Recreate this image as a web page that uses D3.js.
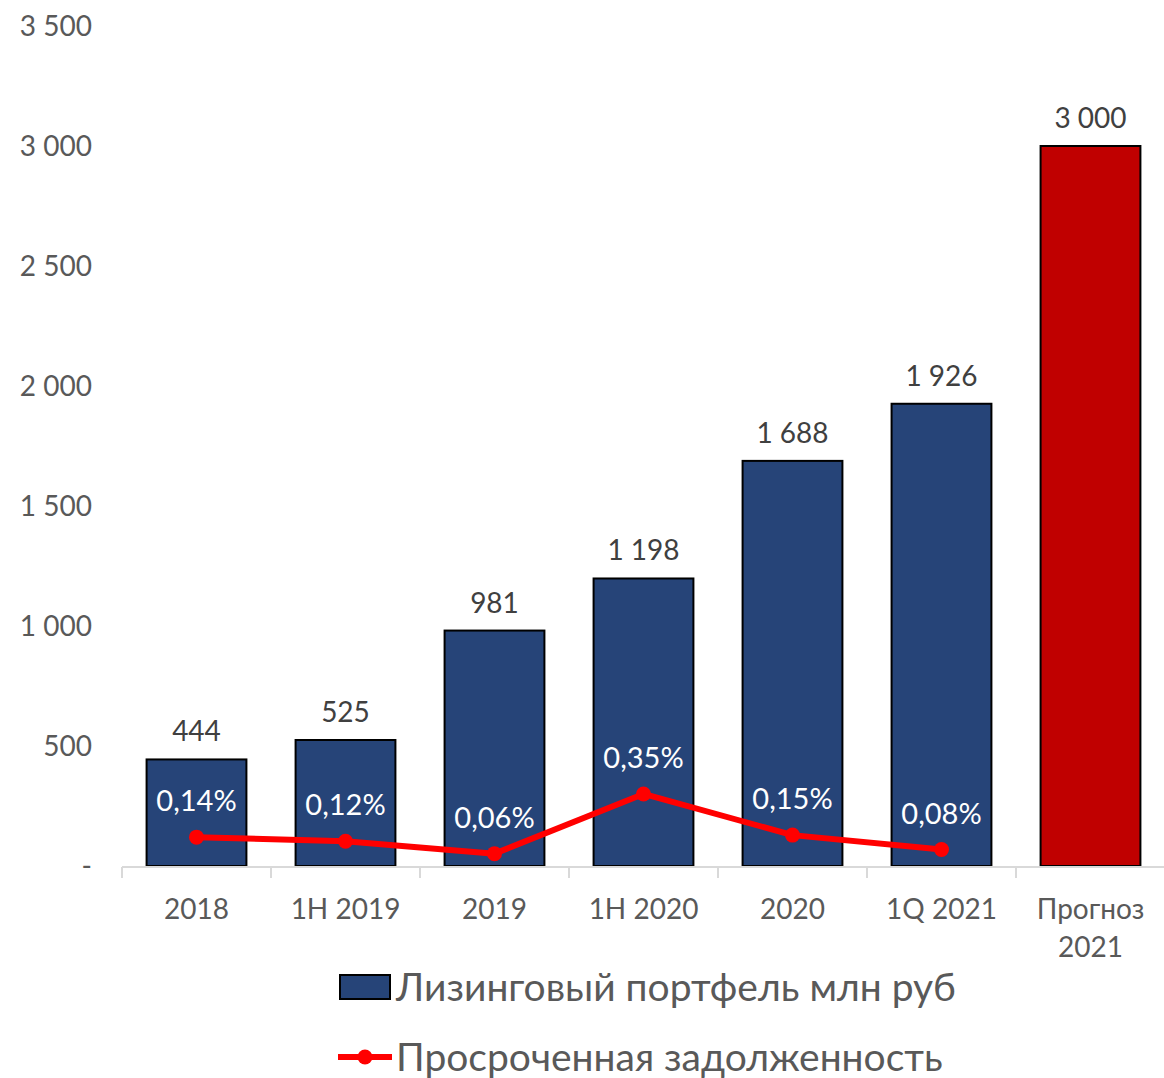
<!DOCTYPE html>
<html><head><meta charset="utf-8">
<script src="https://cdn.jsdelivr.net/npm/d3@7/dist/d3.min.js"></script>
<style>body{margin:0;background:#fff}svg{display:block}text{font-family:Lato,"Open Sans",sans-serif}</style>
</head><body>
<script>
const categories = [["2018"],["1H 2019"],["2019"],["1H 2020"],["2020"],["1Q 2021"],["Прогноз","2021"]];
const portfolio = [444, 525, 981, 1198, 1688, 1926, 3000];
const overdue = [0.14, 0.12, 0.06, 0.35, 0.15, 0.08];
const overdueLabels = ["0,14%","0,12%","0,06%","0,35%","0,15%","0,08%"];
const yTicks = [0, 500, 1000, 1500, 2000, 2500, 3000, 3500];
const legendNames = ["Лизинговый портфель млн руб", "Просроченная задолженность"];

(function(){
const W = 1164, H = 1078;
const svg = d3.select("body").append("svg").attr("width", W).attr("height", H);
const pLeft = 122, pRight = 1165, pTop = 26, pBottom = 866;
const x = d3.scaleBand().domain(d3.range(categories.length)).range([pLeft, pRight]).paddingInner(0.33).paddingOuter(0.165);
const y = d3.scaleLinear().domain([0, 3500]).range([pBottom, pTop]);
const y2 = d3.scaleLinear().domain([0, 4.08]).range([pBottom, pTop]);
const fmt = v => v === 0 ? "-" : d3.format(",")(v).replace(/,/g, " ");
const txt = "#595959";

svg.append("g").selectAll("text").data(yTicks).join("text")
  .attr("x", 92).attr("y", d => y(d)).attr("dy", "0.36em")
  .attr("text-anchor", "end").attr("font-size", 28).attr("fill", txt).text(fmt);

svg.append("g").selectAll("rect").data(portfolio).join("rect")
  .attr("x", (d, i) => x(i)).attr("width", x.bandwidth())
  .attr("y", d => y(d)).attr("height", d => y(0) - y(d))
  .attr("fill", (d, i) => i === portfolio.length - 1 ? "#C00000" : "#264478")
  .attr("stroke", "#000").attr("stroke-width", 2);

svg.append("g").selectAll("text").data(portfolio).join("text")
  .attr("x", (d, i) => x(i) + x.bandwidth() / 2).attr("y", d => y(d) - 18)
  .attr("text-anchor", "middle").attr("font-size", 28).attr("fill", "#404040").text(fmt);

const ax = svg.append("g");
ax.append("line").attr("x1", pLeft).attr("x2", pRight).attr("y1", pBottom + 1).attr("y2", pBottom + 1)
  .attr("stroke", "#d9d9d9").attr("stroke-width", 2);
ax.selectAll("line.t").data(d3.range(categories.length)).join("line").attr("class", "t")
  .attr("x1", i => x(i) - x.step() * 0.165).attr("x2", i => x(i) - x.step() * 0.165)
  .attr("y1", pBottom + 1).attr("y2", pBottom + 12).attr("stroke", "#d9d9d9").attr("stroke-width", 2);
categories.forEach((c, i) => {
  c.forEach((line, j) => {
    ax.append("text").attr("x", x(i) + x.bandwidth() / 2).attr("y", 919 + j * 38)
      .attr("text-anchor", "middle").attr("font-size", 28).attr("fill", txt).text(line);
  });
});

const lineGen = d3.line().x((d, i) => x(i) + x.bandwidth() / 2).y(d => y2(d));
svg.append("path").datum(overdue).attr("d", lineGen).attr("fill", "none")
  .attr("stroke", "#FF0000").attr("stroke-width", 6).attr("stroke-linejoin", "round");
svg.append("g").selectAll("circle").data(overdue).join("circle")
  .attr("cx", (d, i) => x(i) + x.bandwidth() / 2).attr("cy", d => y2(d)).attr("r", 7.5).attr("fill", "#FF0000");
svg.append("g").selectAll("text").data(overdue).join("text")
  .attr("x", (d, i) => x(i) + x.bandwidth() / 2).attr("y", d => y2(d) - 26)
  .attr("text-anchor", "middle").attr("font-size", 29).attr("fill", "#fff").text((d, i) => overdueLabels[i]);

const lg = svg.append("g");
lg.append("rect").attr("x", 340).attr("y", 975).attr("width", 50).attr("height", 24)
  .attr("fill", "#264478").attr("stroke", "#000").attr("stroke-width", 2);
lg.append("text").attr("x", 396).attr("y", 1001).attr("font-size", 39).attr("fill", txt).text(legendNames[0]);
lg.append("line").attr("x1", 338).attr("x2", 392).attr("y1", 1057).attr("y2", 1057)
  .attr("stroke", "#FF0000").attr("stroke-width", 6);
lg.append("circle").attr("cx", 365).attr("cy", 1057).attr("r", 7.5).attr("fill", "#FF0000");
lg.append("text").attr("x", 396).attr("y", 1071).attr("font-size", 39).attr("fill", txt).text(legendNames[1]);
})();
</script>
</body></html>
